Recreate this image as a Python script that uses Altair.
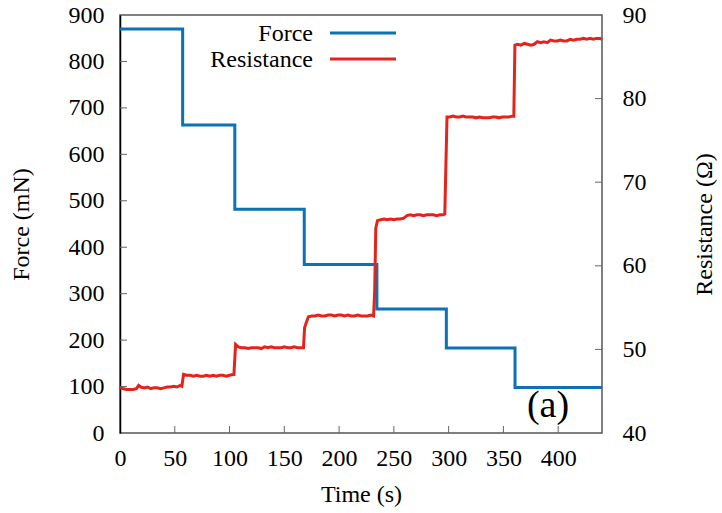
import altair as alt
import pandas as pd

# ---------------- data ----------------
force_t = [0, 57.2, 57.2, 104.8, 104.8, 168.2, 168.2, 234.5, 234.5, 297.9, 297.9, 360.6, 360.6, 440]
force_v = [870, 870, 663, 663, 482, 482, 363, 363, 267, 267, 183, 183, 98, 98]

res_t = [0, 3, 6, 9, 12, 15, 17, 19, 22, 25, 28, 31, 34, 37, 40, 43, 46, 49, 52, 55, 56.5,
         58, 61, 64, 67, 70, 73, 76, 79, 82, 85, 88, 91, 94, 97, 100, 103, 104,
         105.5, 108, 111, 114, 117, 120, 123, 126, 129, 132, 135, 138, 141, 144, 147, 150,
         153, 156, 159, 162, 165, 167.5,
         168.5, 170, 172, 175, 178, 181, 184, 187, 190, 193, 196, 199, 202, 205, 208, 211,
         214, 217, 220, 223, 226, 229, 231.5,
         232.5, 233.5, 235, 238, 241, 244, 247, 250, 253, 256, 259, 262, 265, 268, 271, 274,
         277, 280, 283, 286, 289, 292, 295, 296.5,
         298.5, 301, 304, 307, 310, 313, 316, 319, 322, 325, 328, 331, 334, 337, 340, 343,
         346, 349, 352, 355, 358, 359.5,
         360.5, 363, 366, 369, 372, 375, 378, 381, 384, 387, 390, 393, 396, 399, 402, 405,
         408, 411, 414, 417, 420, 423, 426, 429, 432, 435, 438, 440]
res_v = [45.4, 45.3, 45.2, 45.2, 45.2, 45.3, 45.7, 45.5, 45.4, 45.5, 45.3, 45.4, 45.4, 45.3,
         45.4, 45.5, 45.5, 45.6, 45.5, 45.7, 45.6,
         47.0, 46.9, 46.9, 46.8, 46.9, 46.8, 46.8, 46.9, 46.8, 46.9, 46.8, 46.9, 46.9, 46.8,
         46.9, 47.0, 47.0,
         50.6, 50.3, 50.2, 50.2, 50.1, 50.2, 50.2, 50.2, 50.1, 50.3, 50.2, 50.3, 50.2, 50.2,
         50.2, 50.3, 50.2, 50.2, 50.3, 50.2, 50.2, 50.2,
         52.6, 53.2, 53.9, 54.0, 54.0, 54.1, 54.0, 54.0, 54.1, 54.1, 54.0, 54.1, 54.1, 54.0,
         54.1, 54.0, 54.0, 54.1, 54.0, 54.0, 54.0, 54.1, 54.0,
         57.0, 64.5, 65.4, 65.5, 65.6, 65.5, 65.6, 65.5, 65.6, 65.6, 65.7, 66.0, 66.1, 66.0,
         66.1, 66.1, 66.0, 66.1, 66.1, 66.1, 66.0, 66.1, 66.1, 66.2,
         77.8, 77.8, 77.9, 77.8, 77.8, 77.9, 77.8, 77.8, 77.8, 77.7, 77.8, 77.7, 77.7, 77.7,
         77.8, 77.8, 77.7, 77.8, 77.8, 77.8, 77.9, 77.9,
         86.4, 86.5, 86.4, 86.6, 86.5, 86.4, 86.5, 86.8, 86.7, 86.8, 86.7, 87.0, 86.9, 86.9,
         87.0, 86.9, 86.9, 87.1, 87.0, 87.1, 87.1, 87.2, 87.1, 87.2, 87.1, 87.2, 87.2, 87.1]

x_ticks = [0, 50, 100, 150, 200, 250, 300, 350, 400]
force_ticks = [0, 100, 200, 300, 400, 500, 600, 700, 800, 900]
res_ticks = [40, 50, 60, 70, 80, 90]
legend_labels = ["Force", "Resistance"]
panel_label = ["(a)"]

# ---------------- styling ----------------
W, H = 482, 418
BLUE = "#0b72b5"
RED = "#e6231a"
FONT = "Liberation Serif"
FS = 24
TICK = "#666666"

df_force = pd.DataFrame({"t": force_t, "f": force_v, "i": list(range(len(force_t)))})
df_res = pd.DataFrame({"t": res_t, "r": res_v, "i": list(range(len(res_t)))})

xscale = alt.Scale(domain=[0, 440], nice=False, zero=False)
fscale = alt.Scale(domain=[0, 900], nice=False)
rscale = alt.Scale(domain=[40, 90], nice=False, zero=False)

common = dict(labelFont=FONT, labelFontSize=FS, labelColor="black",
              titleFont=FONT, titleFontSize=FS, titleColor="black", titleFontWeight="normal",
              ticks=False, grid=False, labelFlush=False)

x_axis = alt.Axis(values=x_ticks, title="Time (s)", domain=False,
                  labelPadding=13, titlePadding=12, **common)
f_axis = alt.Axis(values=force_ticks, title="Force (mN)",
                  domain=True, domainColor="black", domainWidth=1.5,
                  labelPadding=16, titlePadding=35, **common)
r_axis = alt.Axis(orient="right", values=res_ticks, title="Resistance (Ω)",
                  domain=False, labelPadding=20, titlePadding=70,
                  titleAngle=270, **common)

force_line = alt.Chart(df_force).mark_line(color=BLUE, strokeWidth=3).encode(
    x=alt.X("t:Q", scale=xscale, axis=x_axis),
    y=alt.Y("f:Q", scale=fscale, axis=f_axis),
    order=alt.Order("i:Q"),
)

left_ticks = alt.Chart(pd.DataFrame({"f": force_ticks[1:-1]})).mark_rule(color=TICK, strokeWidth=1).encode(
    y=alt.Y("f:Q", scale=fscale, axis=f_axis),
    x=alt.value(0), x2=alt.value(7),
)
bottom_ticks = alt.Chart(pd.DataFrame({"t": x_ticks[1:]})).mark_rule(color=TICK, strokeWidth=1).encode(
    x=alt.X("t:Q", scale=xscale, axis=x_axis),
    y=alt.value(H), y2=alt.value(H - 7),
)

leg_df = pd.DataFrame({"label": legend_labels})
leg_force_text = alt.Chart(leg_df).transform_filter(alt.datum.label == "Force").mark_text(
    align="right", baseline="middle", font=FONT, fontSize=FS, color="black").encode(
    text="label:N", x=alt.value(193), y=alt.value(19))
leg_res_text = alt.Chart(leg_df).transform_filter(alt.datum.label == "Resistance").mark_text(
    align="right", baseline="middle", font=FONT, fontSize=FS, color="black").encode(
    text="label:N", x=alt.value(193), y=alt.value(45))
leg_force_line = alt.Chart(leg_df).transform_filter(alt.datum.label == "Force").mark_rule(
    color=BLUE, strokeWidth=3).encode(x=alt.value(210), x2=alt.value(276), y=alt.value(18))
leg_res_line = alt.Chart(leg_df).transform_filter(alt.datum.label == "Resistance").mark_rule(
    color=RED, strokeWidth=3).encode(x=alt.value(210), x2=alt.value(276), y=alt.value(44))

panel = alt.Chart(pd.DataFrame({"label": panel_label})).mark_text(
    align="center", baseline="middle", font=FONT, fontSize=38, color="black").encode(
    text="label:N", x=alt.value(428), y=alt.value(391))

force_group = alt.layer(force_line, left_ticks, bottom_ticks,
                        leg_force_text, leg_res_text, leg_force_line, leg_res_line, panel)

res_line = alt.Chart(df_res).mark_line(color=RED, strokeWidth=3).encode(
    x=alt.X("t:Q", scale=xscale, axis=x_axis),
    y=alt.Y("r:Q", scale=rscale, axis=r_axis),
    order=alt.Order("i:Q"),
)
right_ticks = alt.Chart(pd.DataFrame({"r": res_ticks[1:-1]})).mark_rule(color=TICK, strokeWidth=1).encode(
    y=alt.Y("r:Q", scale=rscale, axis=r_axis),
    x=alt.value(W), x2=alt.value(W - 7),
)
res_group = alt.layer(res_line, right_ticks)

chart = alt.layer(force_group, res_group).resolve_scale(y="independent").properties(
    width=W, height=H,
    background="white",
    padding={"left": 120, "top": 15, "right": 120, "bottom": 80},
    autosize=alt.AutoSizeParams(type="none"),
).configure_view(stroke="#555555", strokeWidth=1.5)

chart.save("out.html", embed_options={"renderer": "svg", "actions": False})
